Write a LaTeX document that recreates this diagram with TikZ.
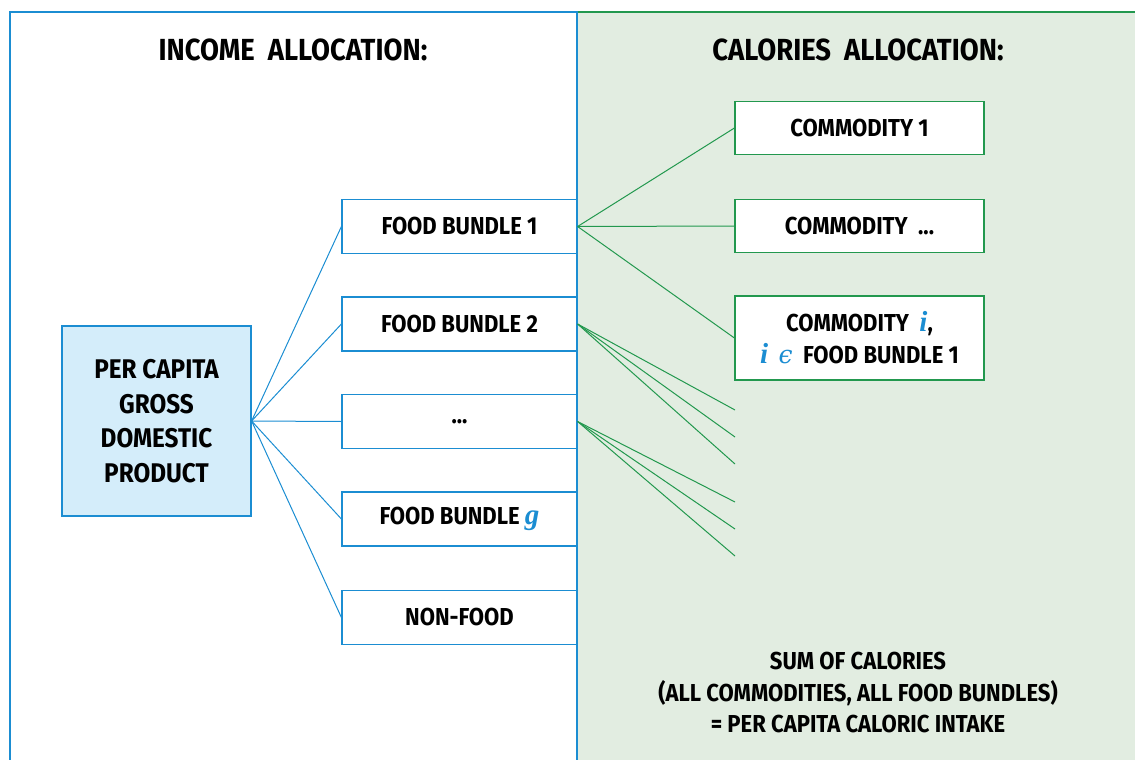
\documentclass[tikz,border=0pt]{standalone}
\usepackage{fontspec}
\setmainfont{Fira Sans}[FakeStretch=0.9]
\newfontfamily\varfont{Liberation Serif}
\newfontfamily\epsfont{DejaVu Serif}
\usetikzlibrary{positioning}
\definecolor{gdpblue}{RGB}{27,141,210}
\definecolor{gdpfill}{RGB}{212,237,250}
\definecolor{calgreen}{RGB}{34,152,78}
\definecolor{calfill}{RGB}{226,237,225}
\newcommand{\varblue}[1]{{\varfont\bfseries\itshape\fontsize{29}{29}\selectfont\textcolor{gdpblue}{#1}}}
\newcommand{\epsblue}{{\epsfont\mdseries\itshape\fontsize{25}{25}\selectfont\textcolor{gdpblue}{ϵ}}}

\begin{document}
\begin{tikzpicture}[x=1pt, y=-1pt,
  gdp/.style={rectangle, draw=gdpblue, fill=gdpfill, line width=1.2pt,
              minimum width=189pt, minimum height=190pt, align=center,
              font=\bfseries\fontsize{27}{34.5}\selectfont},
  bundle/.style={rectangle, draw=gdpblue, fill=white, line width=1.2pt,
                 minimum width=235pt, minimum height=54pt, align=center,
                 font=\bfseries\fontsize{24.5}{30}\selectfont},
  commod/.style={rectangle, draw=calgreen, fill=white, line width=1.2pt,
                 minimum width=249pt, minimum height=53pt, align=center,
                 font=\bfseries\fontsize{24.5}{32}\selectfont},
  heading/.style={font=\bfseries\fontsize{30.5}{34}\selectfont},
  note/.style={align=center, font=\bfseries\fontsize{24.5}{31.5}\selectfont},
  lnk/.style={line width=1pt, #1},
]
\useasboundingbox (0,0) rectangle (1135,760);

% panels
\fill[calfill] (577,12) rectangle (1135,760);
\draw[calgreen, line width=1.2pt] (577,12) -- (1135,12);
\draw[gdpblue, line width=1.2pt] (10,760) -- (10,12) -- (577,12) -- (577,760);

\node[heading] (inc) at (293,50) {INCOME\ \ ALLOCATION:};
\node[heading] (cal) at (858,50) {CALORIES\ \ ALLOCATION:};

% income side
\node[gdp] (pcgdp) at (156.5,421) {PER CAPITA\\GROSS\\DOMESTIC\\PRODUCT};

\node[bundle] (fb1)  at (459.5,226.5) {FOOD BUNDLE 1};
\node[bundle] (fb2)  at (459.5,324)   {FOOD BUNDLE 2};
\node[bundle] (fbd)  at (459.5,421.5) {...};
\node[bundle] (fbg)  at (459.5,519)   {FOOD BUNDLE\ \varblue{g}};
\node[bundle] (nonf) at (459.5,617.5) {NON-FOOD};

\foreach \b in {fb1,fb2,fbd,fbg,nonf}
  \draw[lnk=gdpblue] (pcgdp.east) -- (\b.west);

% calories side
\node[commod] (c1) at (859.5,128) {COMMODITY 1};
\node[commod] (cd) at (859.5,226) {COMMODITY\ \ ...};
\node[commod, minimum height=84pt] (ci) at (859.5,338)
  {COMMODITY\ \ \varblue{i},\\\varblue{i}\ \ \epsblue\ \ FOOD BUNDLE 1};

\foreach \c in {c1,cd,ci}
  \draw[lnk=calgreen] (fb1.east) -- (\c.west);

\coordinate (e1) at (735,410);
\coordinate (e2) at (735,437);
\coordinate (e3) at (735,464);
\coordinate (e4) at (735,502);
\coordinate (e5) at (735,529);
\coordinate (e6) at (735,556);

\foreach \e in {e1,e2,e3}
  \draw[lnk=calgreen] (fb2.east) -- (\e);
\foreach \e in {e4,e5,e6}
  \draw[lnk=calgreen] (fbd.east) -- (\e);

\node[note] (sum) at (858,693)
  {SUM OF CALORIES\\(ALL COMMODITIES, ALL FOOD BUNDLES)\\= PER CAPITA CALORIC INTAKE};

\end{tikzpicture}
\end{document}
